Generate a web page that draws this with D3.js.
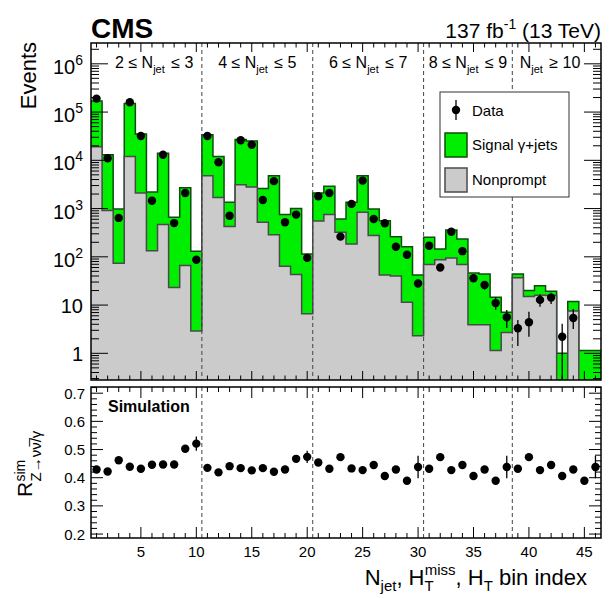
<!DOCTYPE html>
<html><head><meta charset="utf-8">
<script src="https://cdn.jsdelivr.net/npm/d3@7"></script>
<style>
body{margin:0;background:#fff}
svg{display:block}
text{font-family:"Liberation Sans",Arial,Helvetica,sans-serif;fill:#000}
</style>
</head><body>
<svg id="chart" width="611" height="598"></svg>
<script>
// ---------------- data ----------------
const binIndex = d3.range(1, 47);
// stacked total (signal gamma+jets on top of nonprompt)
const totalMC = [170000,13000,980,150000,35000,2200,14000,660,2700,131,
                 34000,12000,1350,27000,25000,2600,4800,750,1000,115,
                 2100,2900,610,1350,4800,980,560,262,162,42,
                 255,145,360,235,46,44,14.5,7.1,
                 44,20,25,19.4,1.0,11.8,1.14,1.14];
const nonprompt = [19000,910,74,12000,2100,134,465,23,66,2.9,
                   4800,1700,425,3100,2800,520,285,64,43,6.6,
                   550,750,323,185,835,275,42,40,11.5,2.3,
                   69,87,95,69,3.9,3.9,1.14,2.7,
                   37,15,16,15.7,0,7.5,0,0];
const dataCounts = [190000,11000,640,160000,32000,1450,13000,500,2100,87,
                    32000,9100,710,26000,21000,1500,3700,520,750,95,
                    1800,2100,262,1250,3800,610,495,162,110,28,
                    170,60,330,131,36,26,11,5.6,
                    3.3,4.4,12.8,14.3,2.2,5.4,null,null];
const dataLow  = [null,null,null,null,null,null,null,null,null,null,
                  null,null,null,null,null,null,null,null,null,null,
                  null,null,null,null,null,null,null,null,null,null,
                  null,null,null,null,30,21,8,3.35,
                  1.42,2.2,9.2,10.5,0.1,3.2,null,null];
const dataHigh = [null,null,null,null,null,null,null,null,null,null,
                  null,null,null,null,null,null,null,null,null,null,
                  null,null,null,null,null,null,null,null,null,null,
                  null,null,null,null,42,31,14.5,7.9,
                  4.9,7.3,16.5,18,4.1,8.3,null,null];
const ratioSim = [0.429,0.422,0.462,0.439,0.432,0.446,0.447,0.447,0.503,0.521,
                  0.435,0.419,0.441,0.434,0.426,0.434,0.421,0.429,0.467,0.474,
                  0.454,0.432,0.473,0.433,0.427,0.445,0.406,0.429,0.389,0.438,
                  0.432,0.473,0.427,0.445,0.406,0.429,0.389,0.438,
                  0.432,0.473,0.427,0.445,0.406,0.429,0.389,0.438];
const ratioErr = [0,0,0,0,0,0,0,0,0.005,0.025,
                  0,0,0,0,0,0,0,0,0.005,0.022,
                  0,0,0,0,0,0,0,0,0,0.04,
                  0,0,0,0,0,0,0,0.04,
                  0,0,0,0,0,0,0,0.04];
const regionEdges = [0.5, 10.5, 20.5, 30.5, 38.5, 46.5];
const regionLabels = [
  ["2 \u2264 N","jet"," \u2264 3"],
  ["4 \u2264 N","jet"," \u2264 5"],
  ["6 \u2264 N","jet"," \u2264 7"],
  ["8 \u2264 N","jet"," \u2264 9"],
  ["N","jet"," \u2265 10"]];
const xTickLabels = [5,10,15,20,25,30,35,40,45];
const yTopMajor = [1,10,100,1000,10000,100000,1000000];
const yBotMajor = [0.2,0.3,0.4,0.5,0.6,0.7];
const legendLabels = ["Data","Signal \u03b3+jets","Nonprompt"];

// ---------------- layout ----------------
const L = 91, R = 601;
const T1 = 43, B1 = 380;
const T2 = 387, B2 = 538;
const green = "#00ee00", greenLine = "#0b4f0b";
const grey = "#cbcbcb", greyLine = "#4a4a4a";

const svg = d3.select("#chart");
const x = d3.scaleLinear().domain([0.5, 46.5]).range([L, R]);
const yT = d3.scaleLog().domain([0.28, 2.7e6]).range([B1, T1]).clamp(true);
const yB = d3.scaleLinear().domain([0.186, 0.722]).range([B2, T2]);
const yv = v => (v && v > 0) ? yT(v) : B1;

svg.append("defs").append("clipPath").attr("id","clipTop")
  .append("rect").attr("x",L).attr("y",T1).attr("width",R-L).attr("height",B1-T1);

function stepPath(vals, closed){
  let p = closed ? `M${x(0.5)},${B1}` : "";
  vals.forEach((v,i)=>{
    const b = binIndex[i];
    const yy = yv(v);
    p += (p==="" ? "M" : "L") + `${x(b-0.5)},${yy}L${x(b+0.5)},${yy}`;
  });
  if (closed) p += `L${x(46.5)},${B1}Z`;
  return p;
}

const gTop = svg.append("g").attr("clip-path","url(#clipTop)");
gTop.append("path").attr("d", stepPath(totalMC,true)).attr("fill",green).attr("stroke","none");
gTop.append("path").attr("d", stepPath(totalMC,false)).attr("fill","none").attr("stroke",greenLine).attr("stroke-width",1.5);
gTop.append("path").attr("d", stepPath(nonprompt,true)).attr("fill",grey).attr("stroke","none");
gTop.append("path").attr("d", stepPath(nonprompt,false)).attr("fill","none").attr("stroke",greyLine).attr("stroke-width",1.5);

// dashed region separators
regionEdges.slice(1,-1).forEach(e=>{
  svg.append("line").attr("x1",x(e)).attr("x2",x(e)).attr("y1",T1).attr("y2",B1)
    .attr("stroke","#444").attr("stroke-width",1).attr("stroke-dasharray","4,3");
  svg.append("line").attr("x1",x(e)).attr("x2",x(e)).attr("y1",T2).attr("y2",B2)
    .attr("stroke","#444").attr("stroke-width",1).attr("stroke-dasharray","4,3");
});

// data points with error bars
const gData = svg.append("g").attr("clip-path","url(#clipTop)");
binIndex.forEach((b,i)=>{
  if (dataCounts[i] == null) return;
  if (dataLow[i] != null) {
    gData.append("line").attr("x1",x(b)).attr("x2",x(b))
      .attr("y1",yv(dataLow[i])).attr("y2",yv(dataHigh[i]))
      .attr("stroke","#000").attr("stroke-width",1.3);
  }
  gData.append("circle").attr("cx",x(b)).attr("cy",yT(dataCounts[i])).attr("r",4.2).attr("fill","#000");
});

// ratio points
binIndex.forEach((b,i)=>{
  if (ratioErr[i] > 0) {
    svg.append("line").attr("x1",x(b)).attr("x2",x(b))
      .attr("y1",yB(ratioSim[i]-ratioErr[i])).attr("y2",yB(ratioSim[i]+ratioErr[i]))
      .attr("stroke","#000").attr("stroke-width",1.3);
  }
  svg.append("circle").attr("cx",x(b)).attr("cy",yB(ratioSim[i])).attr("r",4.2).attr("fill","#000");
});

// ---------------- ticks & frames ----------------
const tk = svg.append("g").attr("stroke","#000").attr("stroke-width",1);
function hTick(xx, y, len){ tk.append("line").attr("x1",xx).attr("x2",xx).attr("y1",y).attr("y2",y+len); }
function vTick(xx, y, len){ tk.append("line").attr("x1",xx).attr("x2",xx+len).attr("y1",y).attr("y2",y); }

binIndex.forEach(b=>{
  const major = b % 5 === 0;
  hTick(x(b), B1, major ? -9 : -4.5);
  hTick(x(b), T1, major ? 9 : 4.5);
  hTick(x(b), B2, major ? -11 : -5);
  hTick(x(b), T2, major ? 11 : 5);
});
d3.range(-1,7).forEach(k=>{
  d3.range(1,10).forEach(m=>{
    const v = m*Math.pow(10,k);
    if (v < yT.domain()[0] || v > yT.domain()[1]) return;
    const len = m===1 ? 17 : 8;
    vTick(L, yT(v), len);
    vTick(R, yT(v), -len);
  });
});
d3.range(0.18, 0.7201, 0.02).forEach(v=>{
  v = Math.round(v*100)/100;
  if (v < yB.domain()[0] || v > yB.domain()[1]) return;
  const major = Math.abs(v*10 - Math.round(v*10)) < 1e-6;
  const len = major ? 12 : 6;
  vTick(L, yB(v), len);
  vTick(R, yB(v), -len);
});

svg.append("rect").attr("x",L).attr("y",T1).attr("width",R-L).attr("height",B1-T1)
  .attr("fill","none").attr("stroke","#000").attr("stroke-width",1.5);
svg.append("rect").attr("x",L).attr("y",T2).attr("width",R-L).attr("height",B2-T2)
  .attr("fill","none").attr("stroke","#000").attr("stroke-width",1.5);

// ---------------- tick labels ----------------
yTopMajor.forEach(v=>{
  const sup = v >= 100;
  const t = svg.append("text").attr("x",83).attr("y",yT(v)+(sup ? 10 : 7.5))
    .attr("text-anchor","end").style("font-size","20px");
  if (!sup) t.text(String(v));
  else {
    t.append("tspan").text("10");
    t.append("tspan").attr("dy",-9).style("font-size","14px").text(String(Math.round(Math.log10(v))));
  }
});
yBotMajor.forEach(v=>{
  svg.append("text").attr("x",85).attr("y",yB(v)+5.5).attr("text-anchor","end")
    .style("font-size","15px").text(d3.format(".1f")(v));
});
xTickLabels.forEach(v=>{
  svg.append("text").attr("x",x(v)).attr("y",557).attr("text-anchor","middle")
    .style("font-size","15px").text(v);
});

// region labels
const regionShift = [0.7, 0, 0, 0, -0.6];
regionLabels.forEach((lab,i)=>{
  const cx = x((regionEdges[i]+regionEdges[i+1])/2 + regionShift[i]);
  const t = svg.append("text").attr("x",cx).attr("y",68).attr("text-anchor","middle").style("font-size","16px");
  t.append("tspan").text(lab[0]);
  t.append("tspan").attr("dy",5).style("font-size","11px").text(lab[1]);
  t.append("tspan").attr("dy",-5).attr("dx",2).text(lab[2]);
});

// ---------------- legend ----------------
svg.append("rect").attr("x",440).attr("y",92).attr("width",129).attr("height",105)
  .attr("fill","#fff").attr("stroke","#333").attr("stroke-width",1);
svg.append("line").attr("x1",456).attr("x2",456).attr("y1",100).attr("y2",120).attr("stroke","#000").attr("stroke-width",1.3);
svg.append("circle").attr("cx",456).attr("cy",110).attr("r",4.2).attr("fill","#000");
svg.append("rect").attr("x",445).attr("y",133).attr("width",22).attr("height",24)
  .attr("fill",green).attr("stroke",greenLine).attr("stroke-width",1.5);
svg.append("rect").attr("x",445).attr("y",168).attr("width",22).attr("height",24)
  .attr("fill",grey).attr("stroke",greyLine).attr("stroke-width",1.5);
[116,150,185].forEach((yy,i)=>{
  svg.append("text").attr("x",472).attr("y",yy).style("font-size","15px").text(legendLabels[i]);
});

// ---------------- titles ----------------
svg.append("text").attr("x",91).attr("y",38).style("font-size","28px").style("font-weight","bold").text("CMS");
const lum = svg.append("text").attr("x",601).attr("y",38).attr("text-anchor","end").style("font-size","21px");
lum.append("tspan").text("137 fb");
lum.append("tspan").attr("dy",-9).style("font-size","14px").text("-1");
lum.append("tspan").attr("dy",9).text(" (13 TeV)");

svg.append("text").attr("transform","translate(36,42) rotate(-90)").attr("text-anchor","end")
  .style("font-size","22px").text("Events");

svg.append("text").attr("x",108).attr("y",412).style("font-size","16px").style("font-weight","bold").text("Simulation");

const yl = svg.append("g").attr("transform","translate(32,497) rotate(-90)");
yl.append("text").attr("x",0).attr("y",0).style("font-size","21px").text("R");
yl.append("text").attr("x",15.5).attr("y",-7).style("font-size","14px").text("sim");
yl.append("text").attr("x",15.5).attr("y",9).style("font-size","15px").text("Z\u2192\u03bd\u03bd\u0305/\u03b3");

const xt = svg.append("text").attr("x",587).attr("y",585).attr("text-anchor","end").style("font-size","22px");
xt.append("tspan").text("N");
xt.append("tspan").attr("dy",6).style("font-size","15px").text("jet");
xt.append("tspan").attr("dy",-6).text(", H");
xt.append("tspan").attr("dy",6).style("font-size","15px").text("T");
xt.append("tspan").attr("dx",-9).attr("dy",-16).style("font-size","15px").text("miss");
xt.append("tspan").attr("dy",10).text(", H");
xt.append("tspan").attr("dy",6).style("font-size","15px").text("T");
xt.append("tspan").attr("dy",-6).text(" bin index");
</script>
</body></html>
